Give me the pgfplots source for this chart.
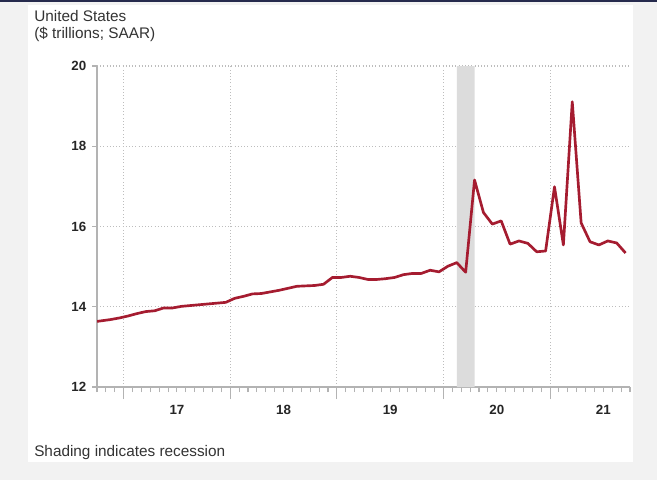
\documentclass[border=0pt]{standalone}
\usepackage{fontspec}
\setmainfont{Liberation Sans}
\usepackage{pgfplots}
\pgfplotsset{compat=1.18}
\usepackage{pgfplotstable}

\definecolor{bggray}{HTML}{F2F2F2}
\definecolor{topbar}{HTML}{262A4D}
\definecolor{axisgray}{HTML}{B3B3B3}
\definecolor{gridgray}{HTML}{BDBDBD}
\definecolor{txtgray}{HTML}{333333}
\definecolor{linered}{HTML}{A51C30}
\definecolor{shade}{HTML}{DCDCDC}

% months since Jan 2017, points at mid-month
\pgfplotstableread{
x y
-3.5 13.62
-2.5 13.65
-1.5 13.68
-0.5 13.72
0.5 13.77
1.5 13.83
2.5 13.88
3.5 13.90
4.5 13.97
5.5 13.97
6.5 14.01
7.5 14.03
8.5 14.05
9.5 14.07
10.5 14.09
11.5 14.11
12.5 14.21
13.5 14.26
14.5 14.32
15.5 14.33
16.5 14.37
17.5 14.41
18.5 14.46
19.5 14.51
20.5 14.52
21.5 14.53
22.5 14.56
23.5 14.73
24.5 14.73
25.5 14.76
26.5 14.73
27.5 14.68
28.5 14.68
29.5 14.70
30.5 14.73
31.5 14.80
32.5 14.83
33.5 14.83
34.5 14.91
35.5 14.87
36.5 15.01
37.5 15.10
38.5 14.86
39.5 17.16
40.5 16.35
41.5 16.06
42.5 16.14
43.5 15.56
44.5 15.64
45.5 15.58
46.5 15.37
47.5 15.39
48.5 16.99
49.5 15.54
50.5 19.11
51.5 16.09
52.5 15.62
53.5 15.54
54.5 15.64
55.5 15.59
56.5 15.34
}\spending

\begin{document}
\begin{tikzpicture}[x=0.75pt,y=0.75pt]
\useasboundingbox (0,0) rectangle (657,480);
\fill[bggray] (0,0) rectangle (657,480);
\fill[white] (28,18) rectangle (633,475);
\fill[topbar] (0,478) rectangle (657,480);

\node[anchor=base west, text=txtgray, font=\fontsize{11.5}{13}\selectfont, inner sep=0pt] at (34,459) {United States};
\node[anchor=base west, text=txtgray, font=\fontsize{11.5}{13}\selectfont, inner sep=0pt] at (34,442) {(\$ trillions; SAAR)};
\node[anchor=base west, text=txtgray, font=\fontsize{11.5}{13}\selectfont, inner sep=0pt] at (34,24) {Shading indicates recession};

\begin{axis}[
  at={(72.75pt,69.75pt)}, anchor=south west,
  scale only axis, width=399.75pt, height=240.75pt,
  xmin=-3, xmax=57, ymin=12, ymax=20,
  axis x line*=bottom, axis y line*=left,
  axis line style={draw=axisgray, line width=0.8pt},
  xtick={0,12,24,36,48}, xticklabels={17,18,19,20,21},
  minor xtick={-3,-2,...,57},
  ytick={12,14,16,18,20}, yticklabels={12,14,16,18,20},
  minor ytick={12,14,16,18,20},
  tick align=outside,
  major tick length=9pt, minor tick length=3.75pt,
  every major y tick/.append style={draw=none},
  tick style={draw=axisgray, line width=0.8pt},
  x tick label style={xshift=40pt, yshift=-1pt},
  y tick label style={xshift=4.5pt},
  tick label style={text=black!85, font=\fontsize{10}{11}\selectfont\bfseries},
  xmajorgrids, ymajorgrids,
  major grid style={draw=gridgray, dotted, line width=0.8pt},
]
\addplot[draw=none, fill=shade] coordinates {(37.5,12) (37.5,20) (39.5,20) (39.5,12)} \closedcycle;
\addplot[linered, line width=2pt, line join=round] table[x=x, y=y] {\spending};
\end{axis}
\end{tikzpicture}
\end{document}
